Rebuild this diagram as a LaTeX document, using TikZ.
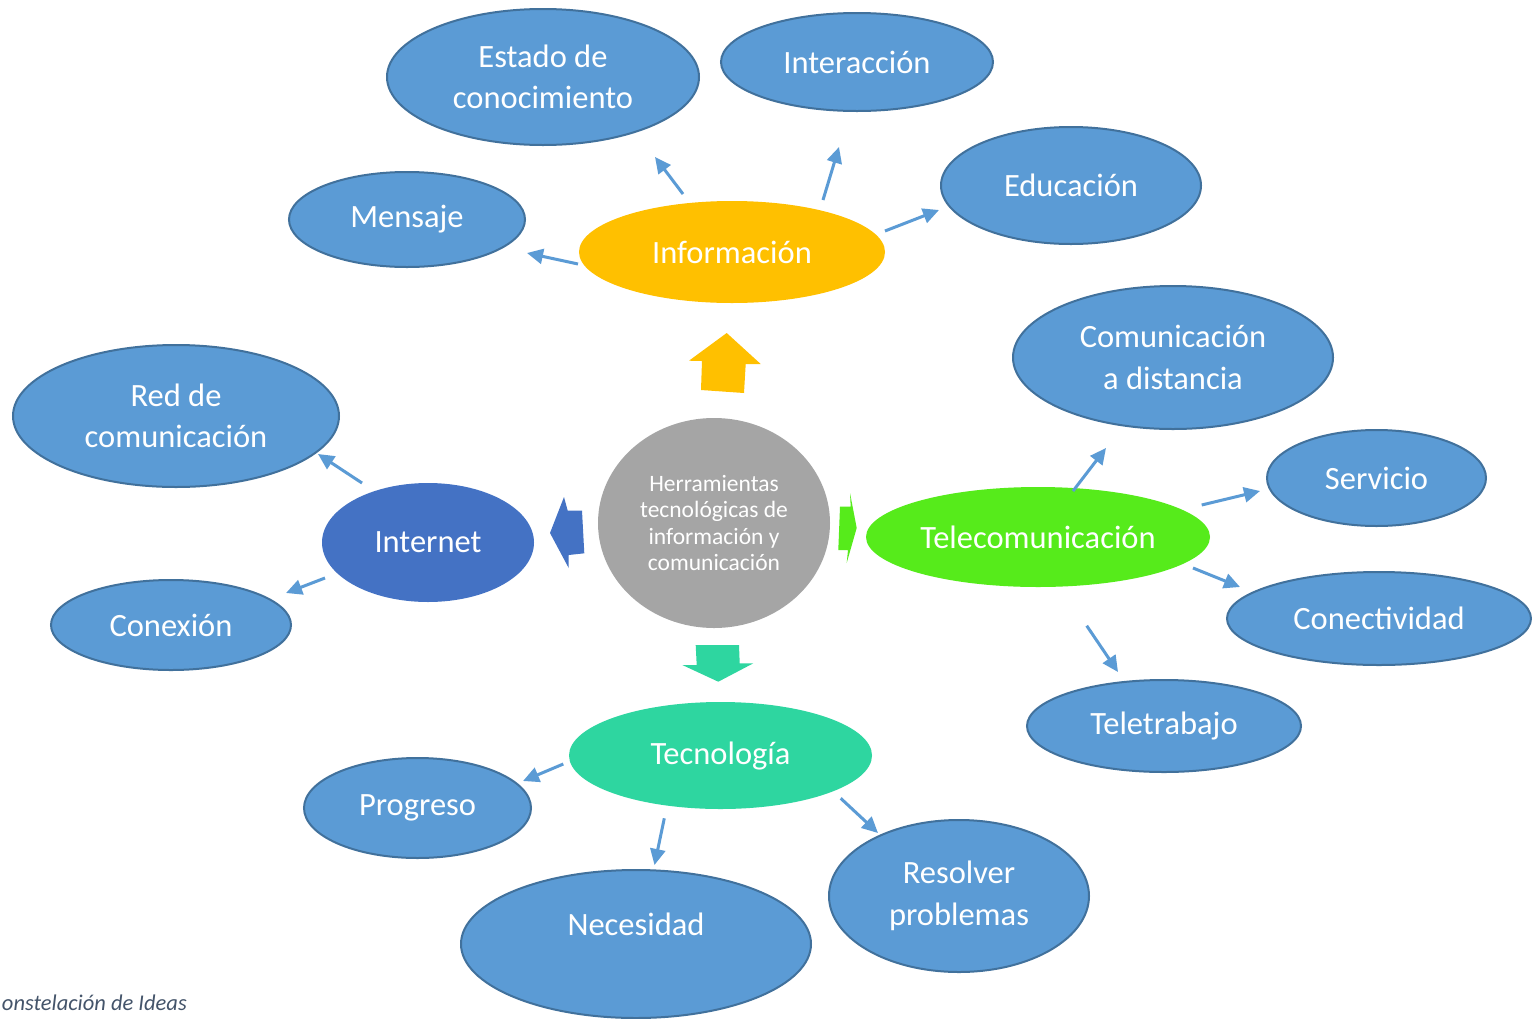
\documentclass[tikz,border=0pt]{standalone}
\usepackage{fontspec}
\setmainfont{Carlito}
\usetikzlibrary{arrows.meta,shapes.geometric}
\definecolor{bluefill}{HTML}{5B9BD5}
\definecolor{blueline}{HTML}{41719C}
\definecolor{infoyellow}{HTML}{FFC000}
\definecolor{telegreen}{HTML}{56EB1B}
\definecolor{tecteal}{HTML}{2ED6A0}
\definecolor{netblue}{HTML}{4472C4}
\definecolor{centergray}{HTML}{A5A5A5}
\definecolor{captioncol}{HTML}{44546A}
\tikzset{
  oval/.style args={#1/#2}{ellipse, inner sep=0pt, minimum width=#1pt, minimum height=#2pt,
     text=white, align=center, font=\fontsize{32.5}{41.5}\selectfont},
  leaf/.style={oval=#1, fill=bluefill, draw=blueline, line width=2pt},
  hub/.style={oval=#1, draw=none},
  link/.style={draw=bluefill, line width=3pt, -{Triangle[length=16pt,width=15pt]}},
  bigarrow/.style={draw=none}
}
\begin{document}
\begin{tikzpicture}[x=1pt,y=-1pt]
\useasboundingbox (0,0) rectangle (1532,1018);
\clip (0,0) rectangle (1532,1018);
\fill[white] (0,0) rectangle (1532,1018);

% center
\node[ellipse, fill=centergray, inner sep=0pt, minimum width=232pt, minimum height=210pt,
      text=white, align=center, font=\fontsize{23.5}{26.5}\selectfont] (center) at (714,523)
      {Herramientas\\tecnológicas de\\información y\\comunicación};

% hubs
\node[hub={306/102}, fill=infoyellow] (info) at (732,252) {Información};
\node[hub={344/100}, fill=telegreen] (tele) at (1038,537) {Telecomunicación};
\node[hub={212/119}, fill=netblue] (internet) at (428,542.5) {Internet};
\node[hub={303/107}, fill=tecteal] (tecno) at (720.5,755.5) {Tecnología};

% leaves
\node[leaf={312/136}] (estado) at (543,77) {Estado de\\conocimiento};
\node[leaf={272/98}] (inter) at (857,62) {Interacción};
\node[leaf={236/95}] (mensaje) at (407,219.5) {Mensaje};
\node[leaf={260/117}] (educ) at (1071,185.5) {Educación};
\node[leaf={320/143}] (comdist) at (1173,357.5) {Comunicación\\a distancia};
\node[leaf={219/96}] (servicio) at (1376.5,478) {Servicio};
\node[leaf={304/93}] (conect) at (1379,618.5) {Conectividad};
\node[leaf={274/92}] (teletr) at (1164,726) {Teletrabajo};
\node[leaf={326/142}] (red) at (176,416) {Red de\\comunicación};
\node[leaf={240/90}] (conexion) at (171,625) {Conexión};
\node[leaf={227/100}] (progreso) at (417.5,808) {Progreso};
\node[leaf={350/148}] (necesidad) at (636,944) {};
\node[text=white, font=\fontsize{32.5}{41.5}\selectfont] (necT) at (636,924) {Necesidad};
\node[leaf={260/152}] (resolver) at (959,896) {Resolver\\problemas};

% block arrows
\fill[infoyellow] (726.7,333) -- (760.7,364) -- (745.7,364) -- (744,393) -- (701,390) -- (702,361) -- (689,360.7) -- cycle;
\fill[netblue] (550,533) -- (564,497) -- (567.7,510.7) -- (582,510.7) -- (584.3,553.3) -- (568.7,555) -- (568.7,568) -- cycle;
\fill[telegreen] (856.7,528) -- (850,493) -- (850.7,506.7) -- (840,506.7) -- (838.3,550) -- (848,550) -- (846.7,563) -- cycle;
\fill[tecteal] (695.7,645) -- (739,645) -- (739.7,663.3) -- (753.3,663.3) -- (718.3,681.7) -- (682.3,665) -- (696.7,665) -- cycle;

% connector end points
\coordinate (iE1) at (683,194);   \coordinate (iE2) at (655,157);
\coordinate (iI1) at (823,200);   \coordinate (iI2) at (839,147);
\coordinate (iM1) at (578,264);   \coordinate (iM2) at (527,253);
\coordinate (iD1) at (885,231);   \coordinate (iD2) at (939,210);
\coordinate (nR1) at (362,483);   \coordinate (nR2) at (318,454);
\coordinate (nC1) at (325,578);   \coordinate (nC2) at (286,593);
\coordinate (tA1) at (1073,491);  \coordinate (tA2) at (1106,448);
\coordinate (tS1) at (1201.7,505);\coordinate (tS2) at (1260,491);
\coordinate (tC1) at (1193,568);  \coordinate (tC2) at (1240,587);
\coordinate (tT1) at (1086.7,625.7); \coordinate (tT2) at (1118,672);
\coordinate (cP1) at (563.3,764); \coordinate (cP2) at (523,781);
\coordinate (cN1) at (664.3,818.3); \coordinate (cN2) at (654.5,865);
\coordinate (cR1) at (840.7,798.3); \coordinate (cR2) at (878,833);

\draw[link] (iE1) -- (iE2);
\draw[link] (iI1) -- (iI2);
\draw[link] (iM1) -- (iM2);
\draw[link] (iD1) -- (iD2);
\draw[link] (nR1) -- (nR2);
\draw[link] (nC1) -- (nC2);
\draw[link] (tA1) -- (tA2);
\draw[link] (tS1) -- (tS2);
\draw[link] (tC1) -- (tC2);
\draw[link] (tT1) -- (tT2);
\draw[link] (cP1) -- (cP2);
\draw[link] (cN1) -- (cN2);
\draw[link] (cR1) -- (cR2);

% caption
\node[anchor=base east, text=captioncol, font=\fontsize{22.5}{26}\selectfont\itshape, inner sep=0pt] (caption) at (187,1010) {onstelación de Ideas};
\end{tikzpicture}
\end{document}
